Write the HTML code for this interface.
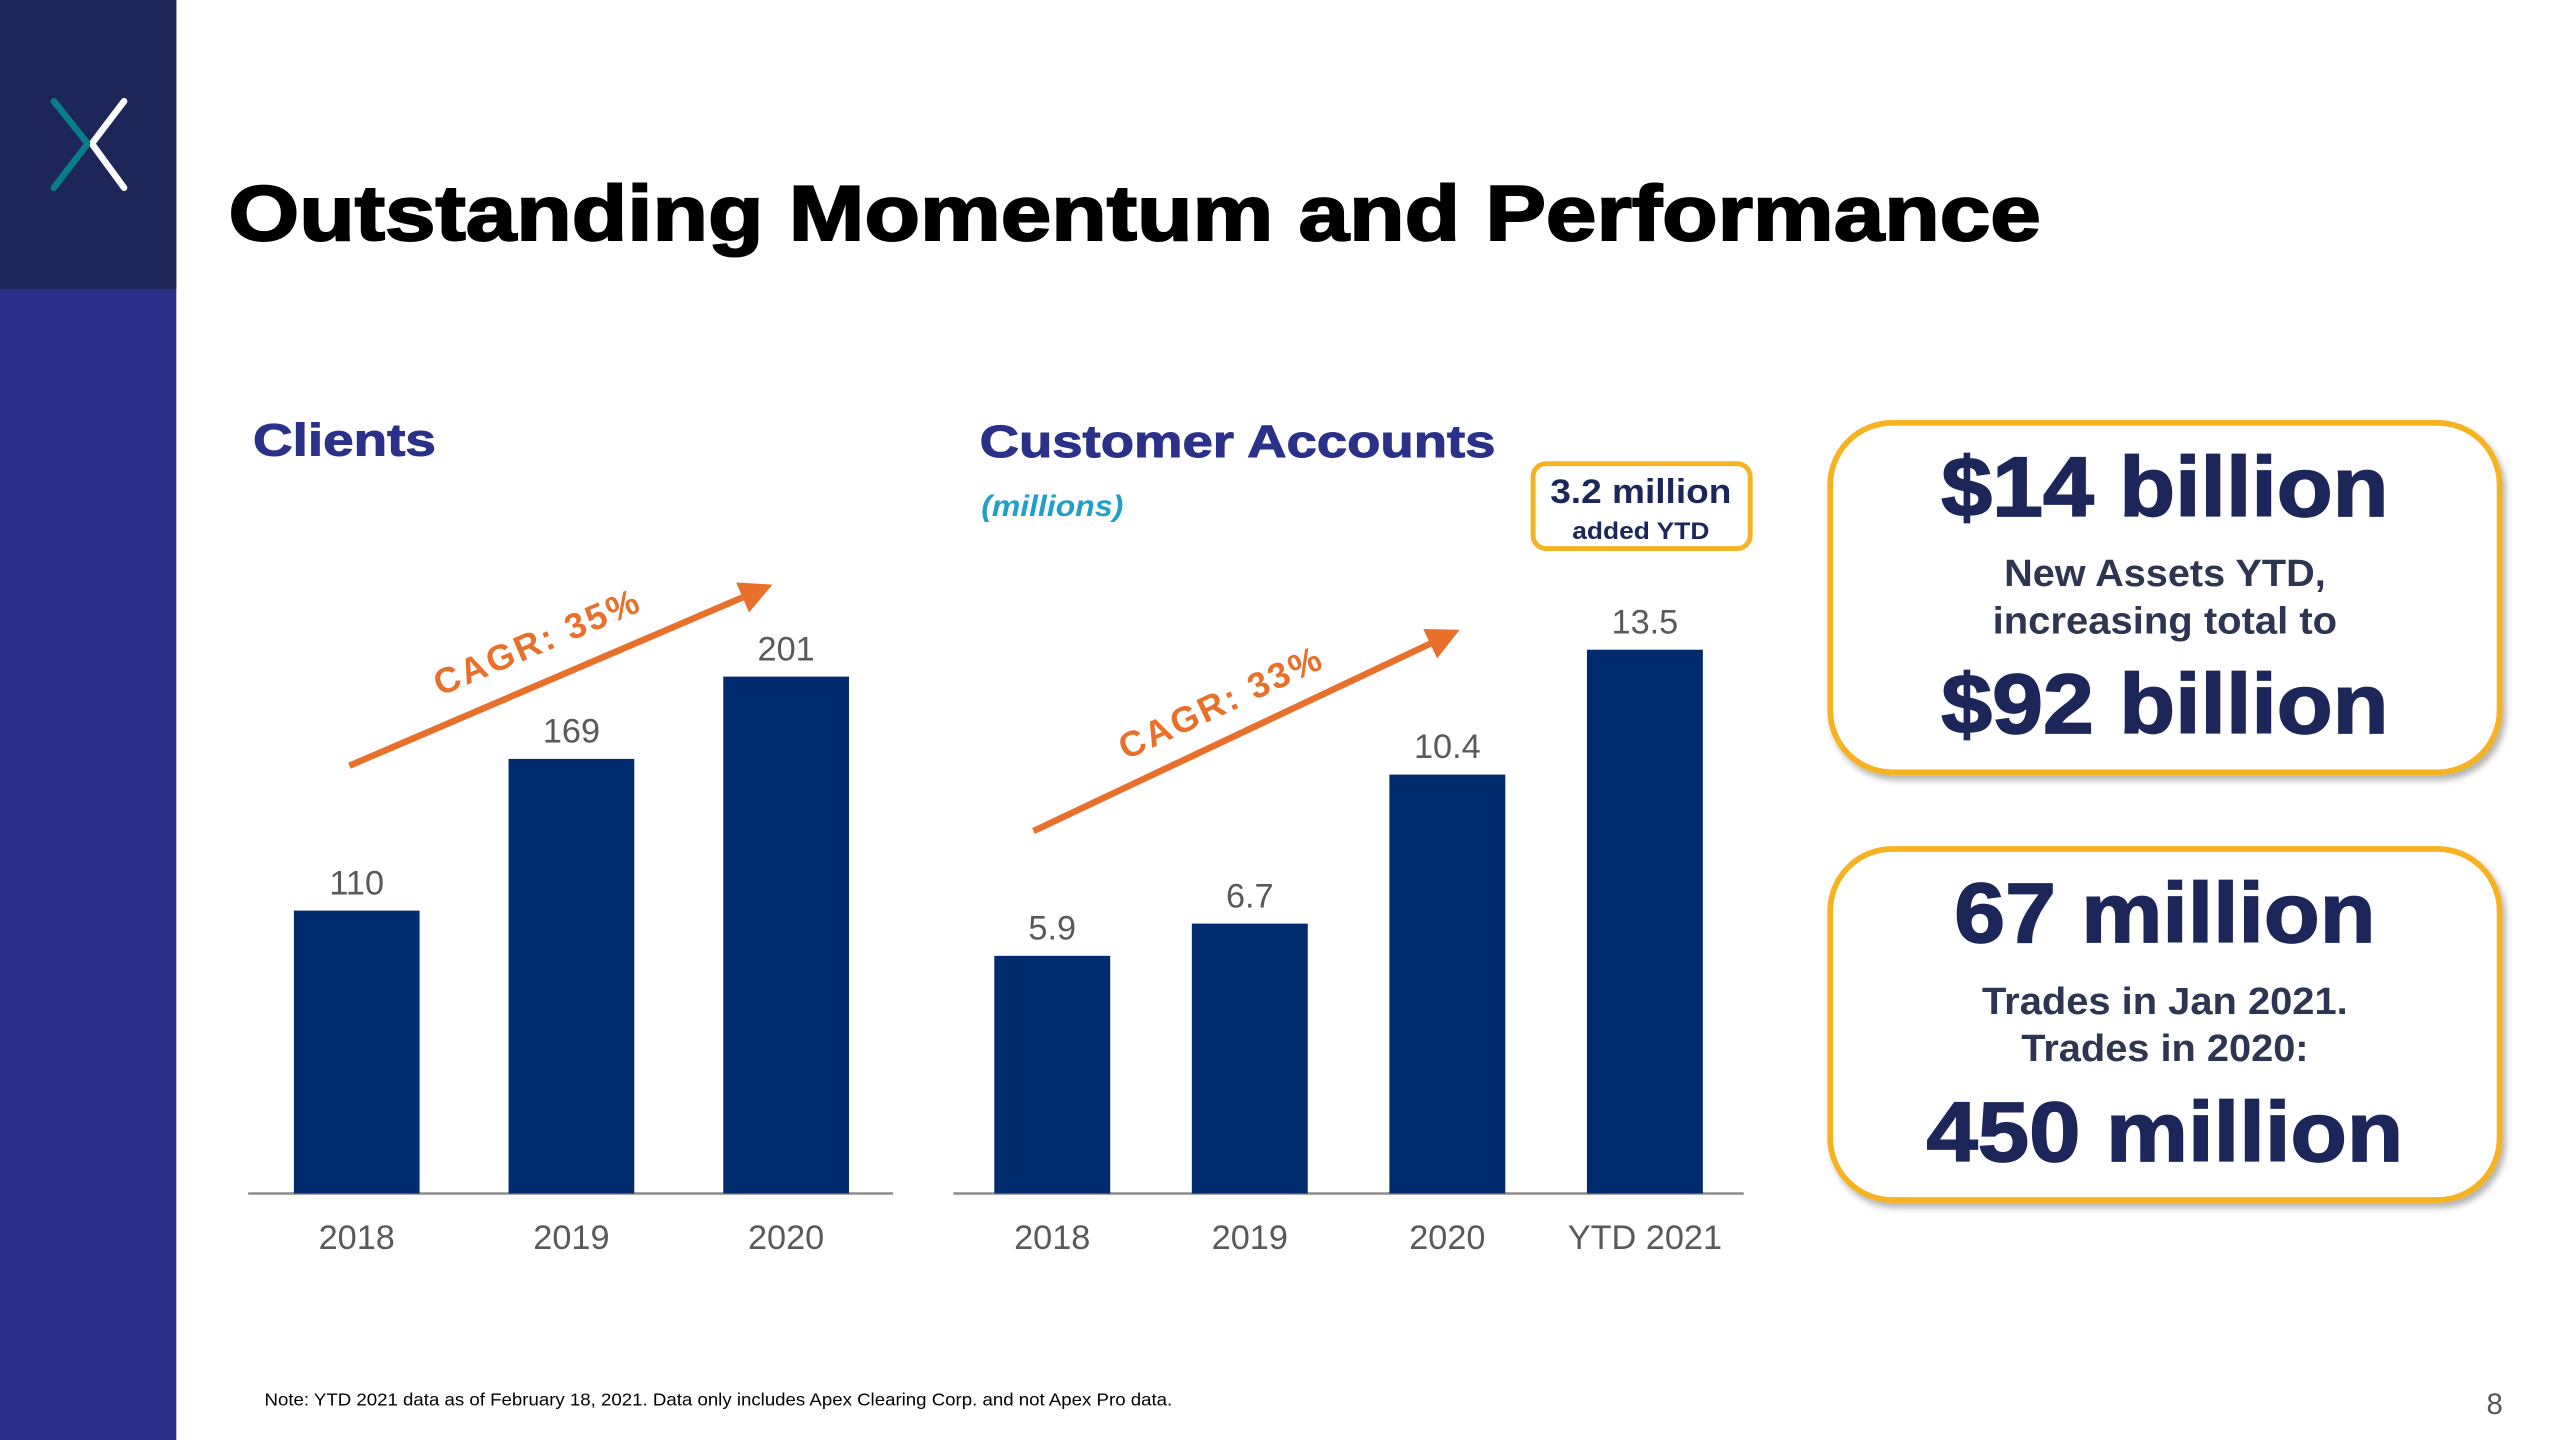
<!DOCTYPE html>
<html><head><meta charset="utf-8"><style>
html,body{margin:0;padding:0;background:#fff;}
svg{display:block;}
text{font-family:"Liberation Sans",Arial,sans-serif;}
</style></head><body>
<svg id="slide" width="2560" height="1440" viewBox="0 0 1568 882" xmlns="http://www.w3.org/2000/svg">
<defs>
<filter id="sh" x="-10%" y="-10%" width="130%" height="130%"><feDropShadow dx="2" dy="3" stdDeviation="2" flood-color="#000" flood-opacity="0.3"/></filter>
<marker id="ah" markerWidth="5" markerHeight="5" refX="2.5" refY="2.5" orient="auto"><path d="M0,0 L5,2.5 L0,5 Z" fill="#e8702a"/></marker>
</defs>
<rect x="0" y="0" width="108" height="882" fill="#2b3188"/>
<rect x="0" y="0" width="108" height="177" fill="#1c2659"/>
<g stroke-linecap="round" stroke-width="4">
<line x1="33" y1="62" x2="53" y2="87" stroke="#0a7d8c"/>
<line x1="53" y1="89" x2="33" y2="115" stroke="#0a7d8c"/>
<line x1="76" y1="62" x2="57" y2="87" stroke="#fff"/>
<line x1="57" y1="89" x2="76" y2="115" stroke="#fff"/>
</g>
<text x="140" y="147" font-size="48" font-weight="900" fill="#000" stroke="#000" stroke-width="1.2" textLength="1110" lengthAdjust="spacingAndGlyphs">Outstanding Momentum and Performance</text>

<text x="155" y="279" font-size="28" font-weight="bold" fill="#2b3188" stroke="#2b3188" stroke-width="0.6" textLength="112" lengthAdjust="spacingAndGlyphs">Clients</text>
<text x="600" y="280" font-size="28" font-weight="bold" fill="#2b3188" stroke="#2b3188" stroke-width="0.6" textLength="316" lengthAdjust="spacingAndGlyphs">Customer Accounts</text>
<text x="601" y="316" font-size="18" font-weight="bold" font-style="italic" fill="#1fa0c8" textLength="87" lengthAdjust="spacingAndGlyphs">(millions)</text>

<g>
<rect x="939" y="284" width="133" height="52" rx="8" fill="#fff" stroke="#f5b324" stroke-width="3"/>
<text x="1005" y="308" font-size="21" font-weight="bold" fill="#1c2659" text-anchor="middle" textLength="111" lengthAdjust="spacingAndGlyphs">3.2 million</text>
<text x="1005" y="330" font-size="15" font-weight="bold" fill="#1c2659" text-anchor="middle" textLength="84" lengthAdjust="spacingAndGlyphs">added YTD</text>
</g>

<g id="clients-chart"></g>
<g id="accounts-chart"></g>

<g>
<line x1="214" y1="469" x2="464" y2="362" stroke="#e8702a" stroke-width="4" marker-end="url(#ah)"/>
<text x="332" y="400" font-size="22" font-weight="bold" fill="#e8702a" text-anchor="middle" transform="rotate(-23 332 400)" letter-spacing="1.5">CAGR: 35%</text>
</g>
<g>
<line x1="633" y1="509" x2="885" y2="390" stroke="#e8702a" stroke-width="4" marker-end="url(#ah)"/>
<text x="751" y="437" font-size="22" font-weight="bold" fill="#e8702a" text-anchor="middle" transform="rotate(-25 751 437)" letter-spacing="1.5">CAGR: 33%</text>
</g>

<g>
<rect x="1121" y="259" width="410" height="214" rx="38" fill="#fff" stroke="#f5b324" stroke-width="3.5" filter="url(#sh)"/>
<text x="1326" y="316" font-size="52" font-weight="bold" fill="#1c2659" stroke="#1c2659" stroke-width="1" text-anchor="middle" textLength="274" lengthAdjust="spacingAndGlyphs">$14 billion</text>
<text x="1326" y="359" font-size="23" font-weight="bold" fill="#2d3550" text-anchor="middle" textLength="197" lengthAdjust="spacingAndGlyphs">New Assets YTD,</text>
<text x="1326" y="388" font-size="23" font-weight="bold" fill="#2d3550" text-anchor="middle" textLength="211" lengthAdjust="spacingAndGlyphs">increasing total to</text>
<text x="1326" y="449" font-size="52" font-weight="bold" fill="#1c2659" stroke="#1c2659" stroke-width="1" text-anchor="middle" textLength="274" lengthAdjust="spacingAndGlyphs">$92 billion</text>
</g>
<g>
<rect x="1121" y="520" width="410" height="215" rx="38" fill="#fff" stroke="#f5b324" stroke-width="3.5" filter="url(#sh)"/>
<text x="1326" y="577" font-size="52" font-weight="bold" fill="#1c2659" stroke="#1c2659" stroke-width="1" text-anchor="middle" textLength="258" lengthAdjust="spacingAndGlyphs">67 million</text>
<text x="1326" y="621" font-size="23" font-weight="bold" fill="#2d3550" text-anchor="middle" textLength="224" lengthAdjust="spacingAndGlyphs">Trades in Jan 2021.</text>
<text x="1326" y="650" font-size="23" font-weight="bold" fill="#2d3550" text-anchor="middle" textLength="176" lengthAdjust="spacingAndGlyphs">Trades in 2020:</text>
<text x="1326" y="711" font-size="52" font-weight="bold" fill="#1c2659" stroke="#1c2659" stroke-width="1" text-anchor="middle" textLength="292" lengthAdjust="spacingAndGlyphs">450 million</text>
</g>

<text x="162" y="861" font-size="10.5" fill="#000" textLength="556" lengthAdjust="spacingAndGlyphs">Note: YTD 2021 data as of February 18, 2021. Data only includes Apex Clearing Corp. and not Apex Pro data.</text>
<text x="1533" y="866" font-size="18" fill="#595959" text-anchor="end">8</text>
</svg>
<script>
const clientCats = ["2018","2019","2020"];
const clientVals = [110,169,201];
const acctCats = ["2018","2019","2020","YTD 2021"];
const acctVals = [5.9,6.7,10.4,13.5];

const NS = "http://www.w3.org/2000/svg";
function drawChart(gid, cats, vals, cfg) {
  const g = document.getElementById(gid);
  const y = v => cfg.base - v * cfg.ppu;
  const x = i => cfg.x0 + i * cfg.step;
  const axis = document.createElementNS(NS, "line");
  axis.setAttribute("x1", cfg.ax0); axis.setAttribute("x2", cfg.ax1);
  axis.setAttribute("y1", cfg.base); axis.setAttribute("y2", cfg.base);
  axis.setAttribute("stroke", "#8c8c8c"); axis.setAttribute("stroke-width", "1.5");
  
  
  g.appendChild(axis);
  cats.forEach((c, i) => {
    const r = document.createElementNS(NS, "rect");
    r.setAttribute("x", x(i)); r.setAttribute("width", cfg.w);
    r.setAttribute("y", y(vals[i])); r.setAttribute("height", cfg.base - y(vals[i]));
    r.setAttribute("fill", "#002b6e");
    
    
    g.appendChild(r);
    const t = document.createElementNS(NS, "text");
    t.setAttribute("x", x(i) + cfg.w / 2); t.setAttribute("y", y(vals[i]) - 10);
    t.setAttribute("font-size", "21"); t.setAttribute("fill", "#595959");
    t.setAttribute("text-anchor", "middle");
    t.textContent = String(vals[i]);
    
    
    g.appendChild(t);
    const l = document.createElementNS(NS, "text");
    l.setAttribute("x", x(i) + cfg.w / 2); l.setAttribute("y", 765);
    l.setAttribute("font-size", "21"); l.setAttribute("fill", "#595959");
    l.setAttribute("text-anchor", "middle");
    l.textContent = c;
    
    
    g.appendChild(l);
  });
}
drawChart("clients-chart", clientCats, clientVals, {base:731, ppu:1.575, x0:180, step:131.5, w:77, ax0:152, ax1:547});
drawChart("accounts-chart", acctCats, acctVals, {base:731, ppu:24.67, x0:609, step:121, w:71, ax0:584, ax1:1068});
</script>
</body></html>
